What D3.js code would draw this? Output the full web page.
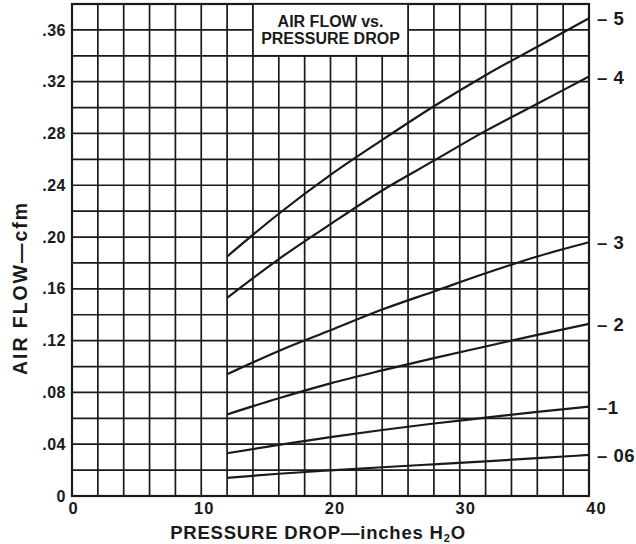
<!DOCTYPE html>
<html>
<head>
<meta charset="utf-8">
<script src="https://cdn.jsdelivr.net/npm/d3@7/dist/d3.min.js"></script>
<style>
  html, body { margin: 0; padding: 0; background: #fff; }
  svg { display: block; font-family: "Liberation Sans", Arial, Helvetica, sans-serif; font-weight: bold; }
</style>
</head>
<body>
<svg id="chart" width="636" height="544"></svg>
<script>
// ---- data ----
const pressure = [12, 16, 20, 24, 28, 32, 36, 40];
const seriesNames = ["– 5", "– 4", "– 3", "– 2", "–1", "– 06"];
const flow5  = [0.185, 0.218, 0.248, 0.275, 0.301, 0.325, 0.347, 0.369];
const flow4  = [0.153, 0.183, 0.210, 0.236, 0.259, 0.282, 0.303, 0.324];
const flow3  = [0.094, 0.112, 0.128, 0.144, 0.158, 0.172, 0.185, 0.196];
const flow2  = [0.063, 0.0755, 0.087, 0.097, 0.1065, 0.1155, 0.1245, 0.133];
const flow1  = [0.033, 0.0395, 0.0455, 0.051, 0.056, 0.0605, 0.065, 0.069];
const flow06 = [0.014, 0.0172, 0.0198, 0.0222, 0.0245, 0.0268, 0.0292, 0.0317];
const xTicks = [0, 10, 20, 30, 40];
const yTicks = [0, 0.04, 0.08, 0.12, 0.16, 0.20, 0.24, 0.28, 0.32, 0.36];
const titleLines = ["AIR FLOW vs.", "PRESSURE DROP"];
const xTitle = "PRESSURE DROP—inches H";
const yTitle = "AIR FLOW—cfm";

const series = [flow5, flow4, flow3, flow2, flow1, flow06];

// ---- layout ----
const svg = d3.select("#chart");
const x = d3.scaleLinear().domain([0, 40]).range([72, 589]);
const xLab = d3.scaleLinear().domain([0, 40]).range([73, 596]);
const y = d3.scaleLinear().domain([0, 0.38]).range([496, 4]);
const ink = "#1a1a1a";

// grid
const gx = d3.range(0, 40.001, 2);
const gy = d3.range(0, 0.3801, 0.02);
const grid = svg.append("g").attr("stroke", ink).attr("stroke-width", 1.7);
grid.selectAll("line.v").data(gx).join("line").attr("class", "v")
  .attr("x1", d => x(d)).attr("x2", d => x(d)).attr("y1", y(0)).attr("y2", y(0.38));
grid.selectAll("line.h").data(gy).join("line").attr("class", "h")
  .attr("x1", x(0)).attr("x2", x(40)).attr("y1", d => y(d)).attr("y2", d => y(d));

// frame
svg.append("rect").attr("x", x(0)).attr("y", y(0.38))
  .attr("width", x(40) - x(0)).attr("height", y(0) - y(0.38))
  .attr("fill", "none").attr("stroke", ink).attr("stroke-width", 2.2);

// title box
svg.append("rect").attr("x", x(14)).attr("y", y(0.38))
  .attr("width", x(26) - x(14)).attr("height", y(0.34) - y(0.38))
  .attr("fill", "#fff").attr("stroke", ink).attr("stroke-width", 1.7);
svg.append("g").selectAll("text").data(titleLines).join("text")
  .attr("x", x(20)).attr("y", (d, i) => 27 + i * 16.5)
  .attr("text-anchor", "middle").attr("font-size", 16).attr("fill", ink)
  .text(d => d);

// curves
const line = d3.line().x((d, i) => x(pressure[i])).y(d => y(d)).curve(d3.curveMonotoneX);
svg.append("g").selectAll("path").data(series).join("path")
  .attr("d", d => line(d)).attr("fill", "none").attr("stroke", ink).attr("stroke-width", 2.2);

// series labels
svg.append("g").selectAll("text").data(series).join("text")
  .attr("x", 597).attr("y", d => y(d[d.length - 1]) + 7)
  .attr("font-size", 18.5).attr("fill", ink).attr("letter-spacing", 0.5)
  .text((d, i) => seriesNames[i]);

// axes
const yAxis = svg.append("g").attr("transform", `translate(${x(0)},0)`)
  .call(d3.axisLeft(y).tickValues(yTicks).tickSize(0).tickPadding(6)
    .tickFormat(d => d === 0 ? "0" : d3.format(".2f")(d).replace(/^0/, "")));
yAxis.select(".domain").remove();
yAxis.selectAll("text").attr("font-size", 16).attr("fill", ink).attr("font-family", null)
  .attr("letter-spacing", 0.5);

const xAxis = svg.append("g").attr("transform", `translate(0,${y(0)})`)
  .call(d3.axisBottom(xLab).tickValues(xTicks).tickSize(0).tickPadding(6));
xAxis.select(".domain").remove();
xAxis.selectAll("text").attr("font-size", 16.5).attr("fill", ink).attr("font-family", null)
  .attr("letter-spacing", 1);

// axis titles
const xt = svg.append("text").attr("x", 318).attr("y", 538.5)
  .attr("text-anchor", "middle").attr("font-size", 18.5).attr("fill", ink)
  .attr("letter-spacing", 0.8);
xt.append("tspan").text(xTitle);
xt.append("tspan").attr("font-size", 11).attr("dy", 3).text("2");
xt.append("tspan").attr("dy", -3).text("O");

svg.append("text").attr("transform", "translate(27,289) rotate(-90)")
  .attr("text-anchor", "middle").attr("font-size", 19.5).attr("fill", ink)
  .attr("textLength", 172).attr("lengthAdjust", "spacing")
  .text(yTitle);
</script>
</body>
</html>
